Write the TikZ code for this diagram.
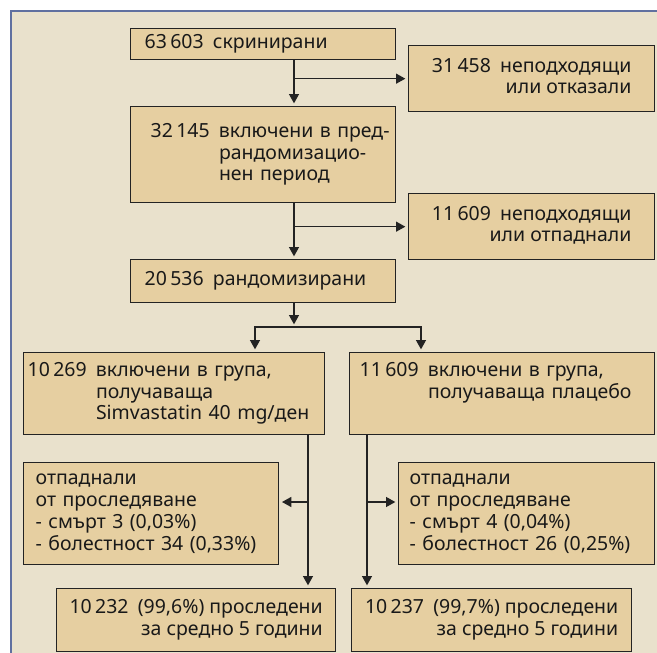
\documentclass[tikz,border=0pt]{standalone}
\usepackage{fontspec}
\newfontfamily\bgfont[Script=Cyrillic,Language=Bulgarian]{Noto Sans}
\usetikzlibrary{arrows.meta}
\definecolor{bgbeige}{RGB}{233,225,204}
\definecolor{boxbeige}{RGB}{230,207,161}
\definecolor{frameblue}{RGB}{96,112,160}
\definecolor{boxline}{RGB}{35,35,35}
\newcommand{\thsep}{\hspace{2.5pt}}

\begin{document}
\begin{tikzpicture}[x=0.75pt,y=0.75pt,yscale=-1,xscale=1,
  box/.style={draw=boxline, fill=boxbeige, line width=1pt, anchor=north west, inner ysep=0pt,
    font=\bgfont\fontsize{14.6}{16.35}\selectfont, text=black!90},
  arr/.style={draw=boxline, line width=1pt, -{Triangle[width=7.5pt,length=7pt]}, shorten >=2pt}]
\useasboundingbox (0,0) rectangle (657,653);

%Background and frame
\fill [bgbeige] (11,11) rectangle (657,653);
\draw [frameblue, line width=1.5] (11,653) -- (11,11) -- (657,11);

% Text Node
\node [box, minimum width=198.75pt, minimum height=23.25pt, inner xsep=10.5pt, text width=177.75pt, align=left] (scr) at (130,28)
  {\begin{tabular}{@{}l@{\hspace{7pt}}l@{}}63\thsep603 & скринирани\end{tabular}};
% Text Node
\node [box, minimum width=184.5pt, minimum height=49.5pt, align=center] (excl1) at (408,45)
  {\begin{tabular}{@{}r@{}}31\thsep458\hspace{7pt}неподходящи\\ или отказали\end{tabular}};
% Text Node
\node [box, minimum width=198.75pt, minimum height=72pt, inner xsep=15pt, text width=168.75pt, align=left] (prerand) at (130,106)
  {\begin{tabular}{@{}l@{\hspace{7pt}}l@{}}32\thsep145 & включени в пред-\\ & рандомизацио-\\ & нен период\end{tabular}};
% Text Node
\node [box, minimum width=184.5pt, minimum height=49.5pt, align=center] (excl2) at (408,193)
  {\begin{tabular}{@{}r@{}}11\thsep609\hspace{7pt}неподходящи\\ или отпаднали\end{tabular}};
% Text Node
\node [box, minimum width=198.75pt, minimum height=32.25pt, inner xsep=10.5pt, text width=177.75pt, align=left] (rand) at (130,259)
  {\begin{tabular}{@{}l@{\hspace{7pt}}l@{}}20\thsep536 & рандомизирани\end{tabular}};
% Text Node
\node [box, minimum width=225.75pt, minimum height=61.5pt, inner xsep=3pt, text width=219.75pt, align=left] (simva) at (23,352)
  {\begin{tabular}{@{}l@{\hspace{7pt}}l@{}}10\thsep269 & включени в група,\\ & получаваща\\ & Simvastatin 40 mg/ден\end{tabular}};
% Text Node
\node [box, minimum width=228.75pt, minimum height=61.5pt, inner xsep=7.5pt, text width=213.75pt, align=left] (placebo) at (349,352)
  {\begin{tabular}{@{}l@{\hspace{7pt}}l@{}}11\thsep609 & включени в група,\\ & получаваща плацебо\\ & \mbox{}\end{tabular}};
% Text Node
\node [box, minimum width=191.25pt, minimum height=76.5pt, inner xsep=9pt, text width=173.25pt, align=left] (dropS) at (23,462)
  {отпаднали\\ от проследяване\\ - смърт 3 (0,03\%)\\ - болестност 34 (0,33\%)};
% Text Node
\node [box, minimum width=192pt, minimum height=76.5pt, inner xsep=8.25pt, text width=175.5pt, align=left] (dropP) at (398,462)
  {отпаднали\\ от проследяване\\ - смърт 4 (0,04\%)\\ - болестност 26 (0,25\%)};
% Text Node
\node [box, minimum width=209.25pt, minimum height=47.25pt, align=center] (fupS) at (56,588)
  {\begin{tabular}{@{}r@{}}10\thsep232\hspace{7pt}(99,6\%) проследени\\ за средно 5 години\end{tabular}};
% Text Node
\node [box, minimum width=210pt, minimum height=47.25pt, align=center] (fupP) at (351,588)
  {\begin{tabular}{@{}r@{}}10\thsep237\hspace{7pt}(99,7\%) проследени\\ за средно 5 години\end{tabular}};

%Straight Lines
\coordinate (t1) at (294,0);
\coordinate (splitL) at (255,327);
\coordinate (splitR) at (421,327);
\coordinate (t2) at (308,502);
\coordinate (t3) at (367,502);
\draw [arr] (scr.south -| t1) -- (t1 |- prerand.north);
\draw [arr] (t1 |- excl1.west) -- (excl1.west);
\draw [arr] (prerand.south -| t1) -- (t1 |- rand.north);
\draw [arr] (t1 |- excl2.west) -- (excl2.west);
\draw [arr] (rand.south -| t1) -- (t1 |- splitL);
\draw [arr] (t1 |- splitL) -- (splitL) -- (splitL |- simva.north);
\draw [arr] (t1 |- splitR) -- (splitR) -- (splitR |- placebo.north);
\draw [arr] (simva.south -| t2) -- (t2 |- fupS.north);
\draw [arr] (t2) -- (t2 -| dropS.east);
\draw [arr] (placebo.south -| t3) -- (t3 |- fupP.north);
\draw [arr] (t3) -- (t3 -| dropP.west);

\end{tikzpicture}
\end{document}
